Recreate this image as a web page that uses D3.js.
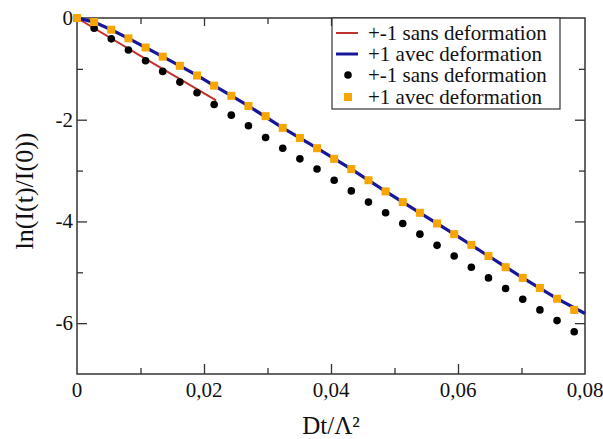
<!DOCTYPE html>
<html><head><meta charset="utf-8">
<script src="https://cdn.jsdelivr.net/npm/d3@7"></script>
<style>body{margin:0;background:#fff}svg{display:block}</style>
</head><body><div id="chart"></div>
<script>
const xValues = [0, 0.0027, 0.0054, 0.0081, 0.0108, 0.0135, 0.0162, 0.0189, 0.0216, 0.0243, 0.027, 0.0297, 0.0324, 0.0351, 0.0378, 0.0405, 0.0432, 0.0459, 0.0486, 0.0513, 0.054, 0.0567, 0.0594, 0.0621, 0.0648, 0.0675, 0.0702, 0.0729, 0.0756, 0.0783];
const sansValues = [0, -0.20, -0.41, -0.63, -0.84, -1.05, -1.26, -1.47, -1.70, -1.91, -2.12, -2.35, -2.56, -2.77, -2.97, -3.19, -3.40, -3.62, -3.83, -4.04, -4.25, -4.47, -4.68, -4.90, -5.11, -5.32, -5.53, -5.74, -5.95, -6.17];
const avecValues = [0, -0.08, -0.23, -0.40, -0.58, -0.76, -0.94, -1.13, -1.33, -1.53, -1.73, -1.93, -2.16, -2.36, -2.56, -2.77, -2.97, -3.19, -3.41, -3.62, -3.83, -4.04, -4.25, -4.46, -4.68, -4.90, -5.11, -5.31, -5.52, -5.74];
const redLineX = [0, 0.011, 0.0219];
const redLineY = [0, -0.82, -1.62];
const blueLineX = [0, 0.0027, 0.0054, 0.0081, 0.0108, 0.0135, 0.0162, 0.0189, 0.0216, 0.027, 0.0324, 0.0378, 0.0432, 0.0486, 0.054, 0.0594, 0.0648, 0.0702, 0.0756, 0.08];
const blueLineY = [0, -0.08, -0.23, -0.40, -0.58, -0.76, -0.94, -1.13, -1.33, -1.73, -2.16, -2.56, -2.97, -3.41, -3.83, -4.25, -4.68, -5.11, -5.52, -5.81];
const xMajorTicks = [0, 0.02, 0.04, 0.06, 0.08];
const xMinorTicks = [0.01, 0.03, 0.05, 0.07];
const xTickLabels = ["0", "0,02", "0,04", "0,06", "0,08"];
const yMajorTicks = [0, -2, -4, -6];
const yMinorTicks = [-1, -3, -5];
const yTickLabels = ["0", "-2", "-4", "-6"];
const legendLabels = ["+-1 sans deformation", "+1 avec deformation", "+-1 sans deformation", "+1 avec deformation"];

const FONT = "'Liberation Serif', 'Times New Roman', Times, 'DejaVu Serif', serif";
const W = 603, H = 439;
const L = 77, R = 585, T = 18, B = 374;
const svg = d3.select("#chart").append("svg").attr("width", W).attr("height", H);
const x = d3.scaleLinear().domain([0, 0.08]).range([L, R]);
const y = d3.scaleLinear().domain([-7, 0]).range([B, T]);
const axisColor = "#333";

svg.append("rect").attr("x", L).attr("y", T).attr("width", R - L).attr("height", B - T)
  .attr("fill", "none").attr("stroke", axisColor).attr("stroke-width", 1.5);

function styleAxis(g){ g.select(".domain").remove(); g.selectAll("line").attr("stroke", axisColor).attr("stroke-width", 1.3); g.selectAll("text").remove(); }
svg.append("g").attr("transform", `translate(0,${B})`).call(d3.axisTop(x).tickValues(xMajorTicks.slice(1,-1)).tickSize(10)).call(styleAxis);
svg.append("g").attr("transform", `translate(0,${B})`).call(d3.axisTop(x).tickValues(xMinorTicks).tickSize(6)).call(styleAxis);
svg.append("g").attr("transform", `translate(0,${T})`).call(d3.axisBottom(x).tickValues(xMajorTicks.slice(1,-1)).tickSize(8)).call(styleAxis);
svg.append("g").attr("transform", `translate(0,${T})`).call(d3.axisBottom(x).tickValues(xMinorTicks).tickSize(6)).call(styleAxis);
svg.append("g").attr("transform", `translate(${L},0)`).call(d3.axisRight(y).tickValues(yMajorTicks.slice(1)).tickSize(10)).call(styleAxis);
svg.append("g").attr("transform", `translate(${L},0)`).call(d3.axisRight(y).tickValues(yMinorTicks).tickSize(6)).call(styleAxis);
svg.append("g").attr("transform", `translate(${R},0)`).call(d3.axisLeft(y).tickValues(yMajorTicks.slice(1)).tickSize(10)).call(styleAxis);
svg.append("g").attr("transform", `translate(${R},0)`).call(d3.axisLeft(y).tickValues(yMinorTicks).tickSize(6)).call(styleAxis);

const txt = svg.append("g").attr("font-family", FONT).attr("fill", "#111");
txt.append("g").selectAll("text").data(xMajorTicks).join("text")
  .attr("x", d => x(d)).attr("y", B + 23).attr("text-anchor", "middle").attr("font-size", 21)
  .text((d, i) => xTickLabels[i]);
txt.append("g").selectAll("text").data(yMajorTicks).join("text")
  .attr("x", L - 4).attr("y", d => y(d) + 7).attr("text-anchor", "end").attr("font-size", 21)
  .text((d, i) => yTickLabels[i]);
txt.append("text").attr("x", x(0.04)).attr("y", 434).attr("text-anchor", "middle").attr("font-size", 25).text("Dt/Λ²");
txt.append("text").attr("transform", "translate(33,191) rotate(-90)").attr("text-anchor", "middle").attr("font-size", 26).text("ln(I(t)/I(0))");

const line = d3.line().x(d => x(d[0])).y(d => y(d[1]));
svg.append("path").datum(redLineX.map((v, i) => [v, redLineY[i]])).attr("d", line)
  .attr("fill", "none").attr("stroke", "#c0322e").attr("stroke-width", 2);
svg.append("path").datum(blueLineX.map((v, i) => [v, blueLineY[i]])).attr("d", line)
  .attr("fill", "none").attr("stroke", "#16169c").attr("stroke-width", 3.2);

svg.append("g").selectAll("circle").data(xValues.map((v, i) => [v, sansValues[i]])).join("circle")
  .attr("cx", d => x(d[0])).attr("cy", d => y(d[1])).attr("r", 3.8).attr("fill", "#000");
const s = 8;
svg.append("g").selectAll("rect").data(xValues.map((v, i) => [v, avecValues[i]])).join("rect")
  .attr("x", d => x(d[0]) - s/2).attr("y", d => y(d[1]) - s/2).attr("width", s).attr("height", s).attr("fill", "#f7a600");

const lg = svg.append("g");
lg.append("rect").attr("x", 332).attr("y", T).attr("width", 228).attr("height", 91)
  .attr("fill", "#fff").attr("stroke", axisColor).attr("stroke-width", 1.2);
const rowY = [33, 54, 75, 97];
lg.append("line").attr("x1", 336).attr("x2", 358).attr("y1", rowY[0]).attr("y2", rowY[0]).attr("stroke", "#c0322e").attr("stroke-width", 2);
lg.append("line").attr("x1", 336).attr("x2", 358).attr("y1", rowY[1]).attr("y2", rowY[1]).attr("stroke", "#16169c").attr("stroke-width", 3);
lg.append("circle").attr("cx", 348).attr("cy", rowY[2]).attr("r", 3.8).attr("fill", "#000");
lg.append("rect").attr("x", 348 - s/2).attr("y", rowY[3] - s/2).attr("width", s).attr("height", s).attr("fill", "#f7a600");
lg.selectAll("text.l").data(legendLabels).join("text").attr("class", "l")
  .attr("font-family", FONT).attr("fill", "#111")
  .attr("x", 368).attr("y", (d, i) => rowY[i] + 7).attr("font-size", 21).text(d => d);
</script></body></html>
